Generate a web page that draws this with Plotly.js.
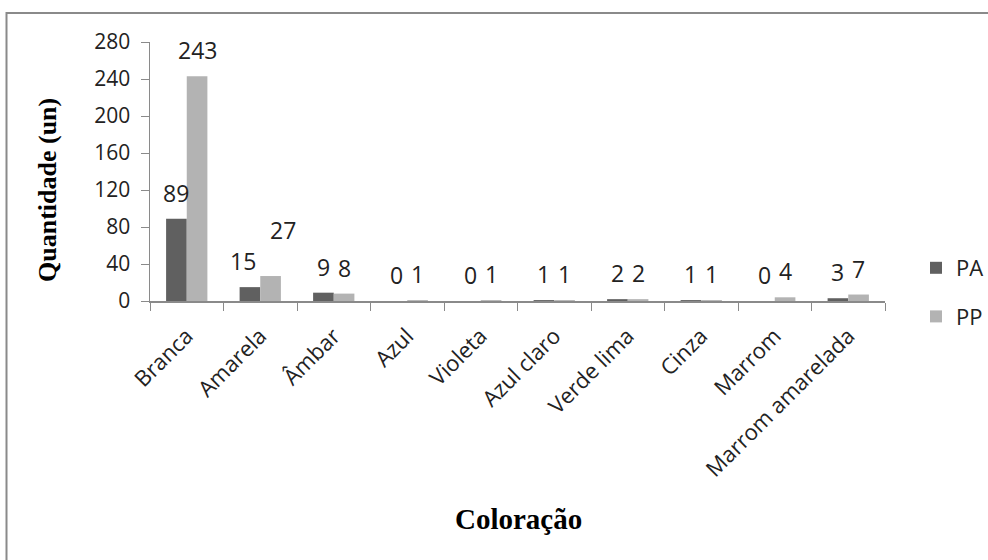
<!DOCTYPE html>
<html>
<head>
<meta charset="utf-8">
<script src="https://cdn.plot.ly/plotly-3.0.1.min.js"></script>
<style>
html,body{margin:0;padding:0;background:#fff;}
#chart{width:988px;height:560px;}
</style>
</head>
<body>
<div id="chart"></div>
<script>
const categories = ['Branca','Amarela','Âmbar','Azul','Violeta','Azul claro','Verde lima','Cinza','Marrom','Marrom amarelada'];
const seriesNames = ['PA','PP'];
const valuesPA = [89,15,9,0,0,1,2,1,0,3];
const valuesPP = [243,27,8,1,1,1,2,1,4,7];
const yTitle = 'Quantidade (un)';
const xTitle = 'Coloração';

const colPA = '#606060';
const colPP = '#b3b3b3';
const sansFont = 'Open Sans, sans-serif';
const serifFont = 'Liberation Serif, Times New Roman, serif';

const traces = [
  {type:'bar', name:seriesNames[0], x:categories, y:valuesPA, marker:{color:colPA}, legendgroup:'a'},
  {type:'bar', name:seriesNames[1], x:categories, y:valuesPP, marker:{color:colPP}, legendgroup:'b'}
];

// Plot area in pixels: x 150..885, y 42..301
const L = 150, R = 988-885, T = 42, B = 560-301;
const pw = 988 - L - R, ph = 560 - T - B;
const px = v => (v - L) / pw;
const py = v => (560 - B - v) / ph;

// label nudges (pixels) to avoid overlapping labels, as in the original
const labelNudge = {'Amarela': {pa:[-7, 0], pp:[12, 20]}};

const off = 0.14;
const annotations = [];
categories.forEach((c, i) => {
  const n = labelNudge[c] || {pa:[0,0], pp:[0,0]};
  annotations.push({xref:'x', yref:'y', x:i - off, y:valuesPA[i], text:String(valuesPA[i]),
    showarrow:false, yanchor:'middle', xshift:n.pa[0], yshift:26 + n.pa[1], font:{family:sansFont, size:23, color:'#222'}});
  annotations.push({xref:'x', yref:'y', x:i + off, y:valuesPP[i], text:String(valuesPP[i]),
    showarrow:false, yanchor:'middle', xshift:n.pp[0], yshift:26 + n.pp[1], font:{family:sansFont, size:23, color:'#222'}});
});
annotations.push({xref:'paper', yref:'paper', x:px(47), y:py(190), text:'<b>'+yTitle+'</b>', textangle:-90,
  showarrow:false, xanchor:'center', yanchor:'middle', font:{family:serifFont, size:26, color:'#000'}});
annotations.push({xref:'paper', yref:'paper', x:px(518), y:py(519), text:'<b>'+xTitle+'</b>',
  showarrow:false, xanchor:'center', yanchor:'middle', font:{family:serifFont, size:29, color:'#000'}});

const layout = {
  width:988, height:560,
  margin:{l:L, r:R, t:T, b:B, pad:0, autoexpand:false},
  paper_bgcolor:'#fff', plot_bgcolor:'#fff',
  barmode:'group', bargap:0.438, bargroupgap:0,
  font:{family:sansFont, color:'#222'},
  xaxis:{type:'category', tickangle:-45, ticks:'outside', tickson:'boundaries', ticklen:8, tickcolor:'#8a8a8a',
    showline:true, linecolor:'#8a8a8a', linewidth:1.5, showgrid:false, zeroline:false, automargin:false,
    tickfont:{family:sansFont, size:22, color:'#222'}, ticklabelstandoff:12, fixedrange:true},
  yaxis:{range:[0,280], dtick:40, tick0:0, ticks:'outside', ticklen:8, tickcolor:'#8a8a8a',
    showline:true, linecolor:'#8a8a8a', linewidth:1.5, showgrid:false, zeroline:false, automargin:false,
    tickfont:{family:sansFont, size:21, color:'#222'}, ticklabelstandoff:6},
  legend:{x:px(916), y:py(247), xanchor:'left', yanchor:'top', tracegroupgap:17,
    font:{family:sansFont, size:22, color:'#222'}, bgcolor:'rgba(0,0,0,0)'},
  showlegend:true,
  annotations:annotations,
  shapes:[{type:'rect', xref:'paper', yref:'paper', x0:px(6.5), x1:px(1200), y0:py(800), y1:py(13),
    line:{color:'#8a8a8a', width:2}, fillcolor:'rgba(0,0,0,0)', layer:'below'}]
};

Plotly.newPlot('chart', traces, layout, {displayModeBar:false, staticPlot:true});
</script>
</body>
</html>
